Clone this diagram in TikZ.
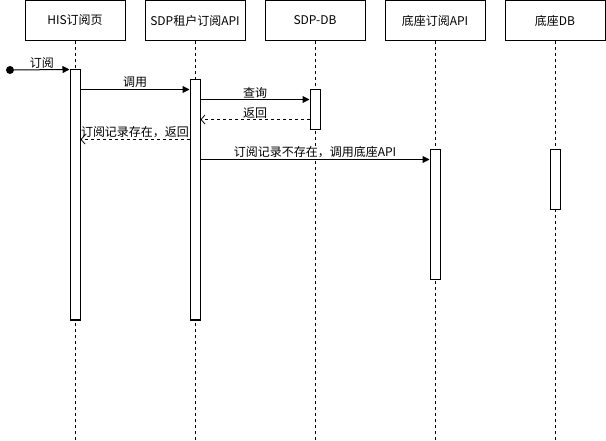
\documentclass[tikz,border=0pt]{standalone}
\usepackage{fontspec}
\setmainfont{Noto Sans CJK SC}
\usetikzlibrary{arrows.meta,positioning,calc}
\begin{document}
\begin{tikzpicture}[x=1pt,y=-1pt,
  header/.style={draw,line width=1pt,minimum width=100pt,minimum height=40pt,inner sep=0pt,font=\fontsize{12}{14}\selectfont},
  lifeline/.style={line width=1pt,dash pattern=on 3pt off 3pt},
  activation/.style={draw,fill=white,line width=1pt,minimum width=10pt,inner sep=0pt},
  syncmsg/.style={line width=1pt,-{Triangle[length=7pt,width=7pt]}},
  retmsg/.style={line width=1pt,dash pattern=on 3pt off 3pt,-{Straight Barb[length=4pt,width=9pt,line width=0.8pt]}},
  msglabel/.style={fill=white,inner sep=1pt,font=\fontsize{12}{14}\selectfont}
]
\useasboundingbox (0,0) rectangle (606,441);
% headers
\node[header] (h1) at (75,20.5) {HIS订阅页};
\node[header] (h2) at (195,20.5) {SDP租户订阅API};
\node[header] (h3) at (315,20.5) {SDP-DB};
\node[header] (h4) at (435,20.5) {底座订阅API};
\node[header] (h5) at (555,20.5) {底座DB};
% lifeline ends
\coordinate (e1) at (75,441);
\coordinate (e2) at (195,441);
\coordinate (e3) at (315,441);
\coordinate (e4) at (435,441);
\coordinate (e5) at (555,441);
\draw[lifeline] (h1.south) -- (e1);
\draw[lifeline] (h2.south) -- (e2);
\draw[lifeline] (h3.south) -- (e3);
\draw[lifeline] (h4.south) -- (e4);
\draw[lifeline] (h5.south) -- (e5);
% activations
\node[activation,minimum height=250pt] (a1) at (75,195) {};
\node[activation,minimum height=240pt] (a2) at (195,200) {};
\node[activation,minimum height=40pt] (a3) at (315,110) {};
\node[activation,minimum height=130pt] (a4) at (435,215) {};
\node[activation,minimum height=60pt] (a5) at (555,180) {};
% start
\node[circle,fill=black,minimum size=8pt,inner sep=0pt] (s) at (10,70) {};
% messages
\draw[syncmsg] (s) -- node[msglabel,above=0pt,fill=none] {订阅} (a1.north west);
\draw[syncmsg] ([yshift=-20pt]a1.north east) -- node[msglabel,above=0pt,fill=none] {调用} ([yshift=-10pt]a2.north west);
\draw[syncmsg] ([yshift=-20pt]a2.north east) -- node[msglabel,above=0pt,fill=none] {查询} ([yshift=-10pt]a3.north west);
\draw[retmsg] ([yshift=-30pt]a3.north west) -- node[msglabel,above=0pt,fill=none] {返回} ([yshift=-40pt]a2.north east);
\draw[retmsg] ([yshift=-60pt]a2.north west) -- node[msglabel,above=0pt,fill=none] {订阅记录存在，返回} ([yshift=-70pt]a1.north east);
\draw[syncmsg] ([yshift=-80pt]a2.north east) -- node[msglabel,above=0pt] {订阅记录不存在，调用底座API} ([yshift=-10pt]a4.north west);
\end{tikzpicture}
\end{document}
